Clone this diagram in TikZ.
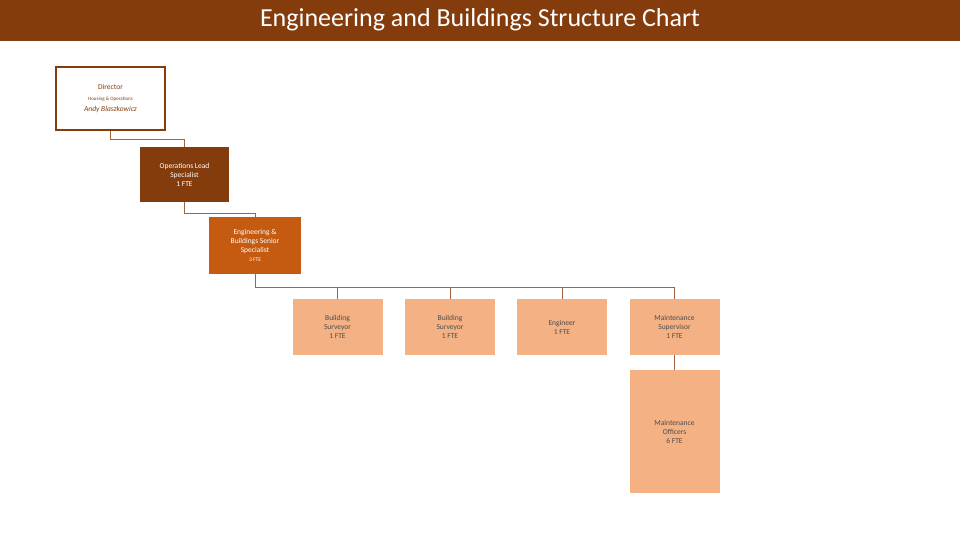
\documentclass[tikz,border=0pt]{standalone}
\usepackage{fontspec}
\setmainfont{Carlito}
\definecolor{dbrown}{HTML}{843C0C}
\definecolor{mbrown}{HTML}{C55A11}
\definecolor{lbrown}{HTML}{F4B183}
\definecolor{lnc}{HTML}{A0653A}
\begin{document}
\begin{tikzpicture}[x=1pt,y=-1pt,
 bx/.style={minimum width=90pt,minimum height=56pt,align=center,font=\fontsize{7.5}{9}\selectfont,inner sep=1pt},
 dk/.style={bx,fill=dbrown,text=white},
 md/.style={bx,fill=mbrown,text=white},
 lt/.style={bx,fill=lbrown,text=black!70},
 ln/.style={draw=lnc,line width=0.8pt}]
\useasboundingbox (0,0) rectangle (960,540);
\fill[dbrown] (0,0) rectangle (960,41);
\node[text=white,font=\fontsize{26}{28}\selectfont] (title) at (480,20) {Engineering and Buildings Structure Chart};
\node[draw=dbrown,line width=2.5pt,fill=white,minimum width=109pt,minimum height=63pt,align=center,inner sep=1pt,text=dbrown] (dir) at (110.5,98.5)
 {{\fontsize{7.5}{9}\selectfont Director}\\[-1pt]{\fontsize{5}{6}\selectfont Housing \& Operations}\\[-1pt]{\fontsize{7.5}{9}\selectfont\itshape Andy Blaszkowicz}};
\node[dk,minimum width=89pt,minimum height=55pt] (ops) at (184.5,174.5) {Operations Lead\\Specialist\\1 FTE};
\node[md,minimum width=92pt,minimum height=57pt] (eb) at (255,245.5) {Engineering \&\\Buildings Senior\\Specialist\\{\fontsize{5.5}{7}\selectfont 3 FTE}};
\node[lt] (b1) at (337.5,327) {Building\\Surveyor\\1 FTE};
\node[lt] (b2) at (450,327) {Building\\Surveyor\\1 FTE};
\node[lt] (b3) at (562,327) {Engineer\\1 FTE};
\node[lt] (b4) at (674.5,327) {Maintenance\\Supervisor\\1 FTE};
\node[lt,minimum height=123pt] (b5) at (674.5,431.5) {Maintenance\\Officers\\6 FTE};
\draw[ln] (dir.south) -- (110.5,139) -| (ops.north);
\draw[ln] (ops.south) -- (184.5,213) -| (eb.north);
\coordinate (j) at (255,287);
\draw[ln] (eb.south) -- (j) -- (674.5,287);
\foreach \b in {b1,b2,b3,b4} \draw[ln] (j) -| (\b.north);
\draw[ln] (b4.south) -- (b5.north);
\end{tikzpicture}
\end{document}
